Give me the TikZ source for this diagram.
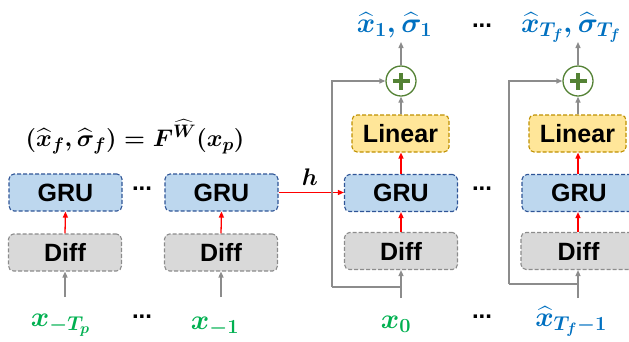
\RequirePackage{fix-cm}
\documentclass[tikz,border=0pt]{standalone}
\usepackage{amsmath}
\usepackage{fontspec}
\setsansfont{Liberation Sans}
\usetikzlibrary{arrows.meta}

% sub/superscript sizes for the big math labels
\DeclareMathSizes{28}{28}{20}{15}
\DeclareMathSizes{24}{24}{18}{13}

\definecolor{gruFill}{HTML}{BDD7EE}
\definecolor{gruLine}{HTML}{2F5597}
\definecolor{diffFill}{HTML}{D9D9D9}
\definecolor{diffLine}{HTML}{8C8C8C}
\definecolor{linFill}{HTML}{FFE699}
\definecolor{linLine}{HTML}{BF9000}
\definecolor{plusGreen}{HTML}{548235}
\definecolor{inGreen}{HTML}{00B050}
\definecolor{outBlue}{HTML}{0070C0}
\definecolor{wireGray}{HTML}{8C8C8C}
\definecolor{hidRed}{HTML}{FF0000}

\begin{document}
\begin{tikzpicture}[x=1pt,y=-1pt,
  box/.style={rounded corners=5pt, dash pattern=on 4pt off 2pt, line width=1.1pt,
    minimum height=37pt, inner sep=0pt,
    font=\sffamily\bfseries\fontsize{25}{30}\selectfont},
  grubox/.style={box, fill=gruFill, draw=gruLine, minimum width=113pt},
  diffbox/.style={box, fill=diffFill, draw=diffLine, minimum width=113pt},
  linbox/.style={box, fill=linFill, draw=linLine, minimum width=97pt},
  sumnode/.style={circle, draw=plusGreen, line width=1.3pt, fill=white,
    minimum size=30pt, inner sep=0pt},
  redarrow/.style={draw=hidRed, line width=1.3pt, -{Triangle[length=6pt,width=5pt]}},
  grayarrow/.style={draw=wireGray, line width=1.3pt, -{Triangle[length=6pt,width=5pt]}},
  grayline/.style={draw=wireGray, line width=1.3pt},
  mlabel/.style={inner sep=0pt, font=\fontsize{28}{32}\selectfont\boldmath},
  dots/.style={inner sep=0pt, font=\sffamily\bfseries\fontsize{24}{28}\selectfont}
]
\useasboundingbox (0,0) rectangle (629,341);
\clip (0,0) rectangle (629,341);

% formula
\node[inner sep=0pt, font=\fontsize{24}{28}\selectfont\boldmath] (eq) at (135,137)
  {$(\widehat{x}_f,\widehat{\sigma}_f)=F^{\widehat{W}}(x_p)$};

% encoder (past inputs)
\node[grubox] (gru1) at (65.5,192.5) {GRU};
\node[diffbox] (diff1) at (65,252.5) {Diff};
\node[grubox] (gru2) at (221.5,192.5) {GRU};
\node[diffbox] (diff2) at (221,252.5) {Diff};
\node[dots] (dg1) at (142,189) {...};

\node[mlabel, text=inGreen, anchor=base] (xin1) at (60.5,326) {$x_{-T_p}$};
\node[mlabel, text=inGreen, anchor=base] (xin2) at (215,329) {$x_{-1}$};
\node[dots] (dx1) at (142,317) {...};

\coordinate (s1) at (65,297);
\coordinate (s2) at (221,297);
\draw[grayarrow] (s1) -- (diff1.south);
\draw[grayarrow] (s2) -- (diff2.south);
\draw[redarrow] (diff1.north) -- (gru1.south);
\draw[redarrow] (diff2.north) -- (gru2.south);

% decoder (future outputs)
\node[grubox] (gru3) at (401,193) {GRU};
\node[diffbox] (diff3) at (401,251) {Diff};
\node[linbox] (lin1) at (400.5,133.5) {Linear};
\node[sumnode] (sum1) at (401,81) {};

\node[grubox, minimum width=114pt] (gru4) at (579,193) {GRU};
\node[diffbox, minimum width=115pt] (diff4) at (578.5,251) {Diff};
\node[linbox] (lin2) at (577.5,133.5) {Linear};
\node[sumnode] (sum2) at (578,81) {};
\node[dots] (dg2) at (482,189) {...};

% plus signs
\foreach \s in {sum1,sum2}{
  \draw[plusGreen, line width=4.5pt] ([xshift=-8.5pt]\s.center) -- ([xshift=8.5pt]\s.center);
  \draw[plusGreen, line width=4.5pt] ([yshift=-8.5pt]\s.center) -- ([yshift=8.5pt]\s.center);
}

\node[mlabel, text=inGreen, anchor=base] (xin3) at (396,328) {$x_0$};
\node[mlabel, text=outBlue, anchor=base] (xin4) at (571,326) {$\widehat{x}_{T_f-1}$};
\node[dots] (dx2) at (482,317) {...};

\node[mlabel, text=outBlue, anchor=base] (out1) at (394.5,32) {$\widehat{x}_1,\widehat{\sigma}_1$};
\node[mlabel, text=outBlue, anchor=base] (out2) at (571,32) {$\widehat{x}_{T_f},\widehat{\sigma}_{T_f}$};
\node[dots] (dt) at (482,26) {...};

% hidden state hand-over
\draw[redarrow] (gru2.east) -- (gru2.east -| gru3.west);
\node[inner sep=0pt, font=\fontsize{24}{28}\selectfont\boldmath] (hlab) at (310,177.5) {$h$};

% decoder step 1 wiring
\coordinate (s3) at (401,298);
\coordinate (j3) at (401,287);
\coordinate (c3) at (332,287);
\draw[grayarrow] (s3) -- (diff3.south);
\draw[grayline] (j3) -- (c3);
\draw[grayarrow] (c3) |- (sum1.west);
\draw[redarrow] (diff3.north) -- (gru3.south);
\draw[redarrow] (gru3.north) -- (lin1.south -| gru3.north);
\draw[grayarrow] (lin1.north -| sum1.south) -- (sum1.south);
\coordinate (o1) at (401,42);
\draw[grayarrow] (sum1.north) -- (o1);

% decoder step T_f wiring
\coordinate (s4) at (578,298);
\coordinate (j4) at (578,284);
\coordinate (c4) at (509,284);
\draw[grayarrow] (s4) -- (diff4.south -| s4);
\draw[grayline] (j4) -- (c4);
\draw[grayarrow] (c4) |- (sum2.west);
\draw[redarrow] (diff4.north -| s4) -- (gru4.south -| s4);
\draw[redarrow] (gru4.north -| s4) -- (lin2.south -| s4);
\draw[grayarrow] (lin2.north -| sum2.south) -- (sum2.south);
\coordinate (o2) at (578,42);
\draw[grayarrow] (sum2.north) -- (o2);
\end{tikzpicture}
\end{document}
